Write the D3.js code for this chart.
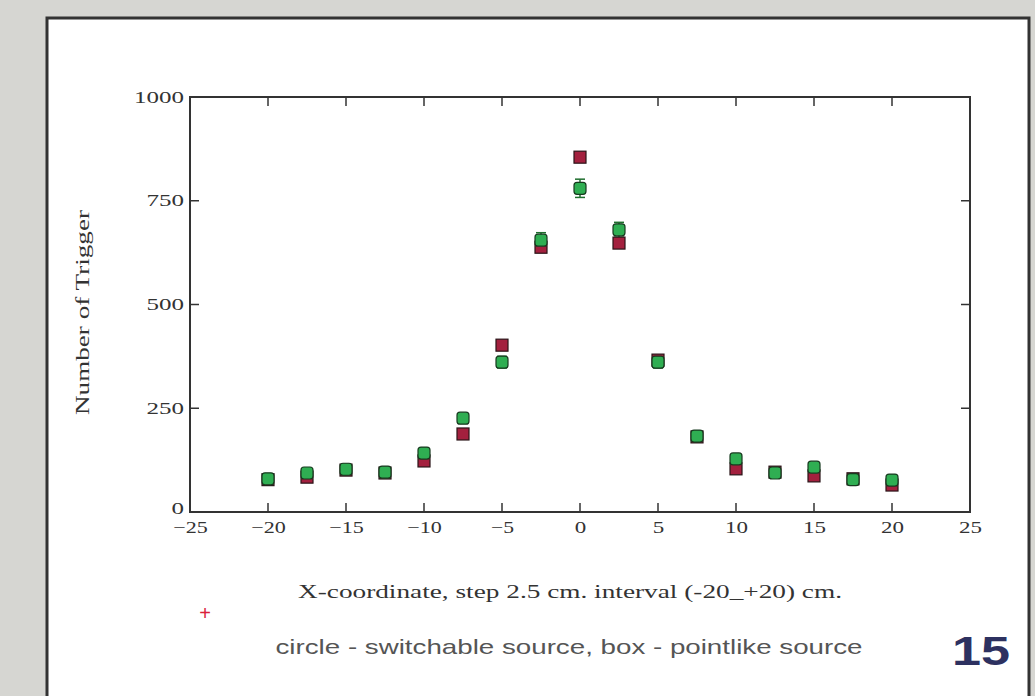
<!doctype html>
<html lang="en">

<head>
    <meta charset="UTF-8" />
    <script src="https://d3js.org/d3.v7.min.js"></script>
    <title>Number of Trigger</title>
    <style>
        body { margin: 0; background: #d6d6d2; }
    </style>
</head>

<body>
    <div id="chart"></div>
    <script>
        // Data
        const xPositions = [-20, -17.5, -15, -12.5, -10, -7.5, -5, -2.5, 0, 2.5, 5, 7.5, 10, 12.5, 15, 17.5, 20]
        const boxValues = [78, 84, 101, 94, 123, 188, 402, 638, 855, 648, 366, 181, 104, 96, 87, 80, 65]     // pointlike
        const circleValues = [80, 94, 103, 96, 142, 226, 361, 655, 780, 680, 361, 183, 128, 94, 108, 78, 77] // switchable
        const circleErrors = [6, 7, 7, 7, 8, 10, 14, 18, 22, 18, 14, 10, 8, 7, 8, 6, 6]
        const xTicks = [-25, -20, -15, -10, -5, 0, 5, 10, 15, 20, 25]
        const yTicks = [0, 250, 500, 750, 1000]

        const W = 1035, H = 696
        const plot = { left: 190, right: 970, top: 97, bottom: 512 }

        const svg = d3.select("#chart").append("svg")
            .attr("width", W).attr("height", H)

        // slide panel
        svg.append("rect")
            .attr("x", 47).attr("y", 18).attr("width", 982).attr("height", 700)
            .attr("fill", "white").attr("stroke", "#333").attr("stroke-width", 3)

        const x = d3.scaleLinear().domain([-25, 25]).range([plot.left, plot.right])
        const y = d3.scaleLinear().domain([0, 1000]).range([plot.bottom, plot.top])

        const serif = "'Liberation Serif', 'DejaVu Serif', serif"
        const sans = "'Liberation Sans', Arial, sans-serif"

        // frame
        svg.append("rect")
            .attr("x", plot.left).attr("y", plot.top)
            .attr("width", plot.right - plot.left).attr("height", plot.bottom - plot.top)
            .attr("fill", "none").attr("stroke", "#333").attr("stroke-width", 2)

        // tick labels (the original font is wide, so stretch the text a bit)
        svg.append("g")
            .attr("transform", `translate(0,${plot.bottom})`)
            .call(d3.axisBottom(x).tickValues(xTicks).tickSize(0).tickPadding(10)
                .tickFormat(d => d < 0 ? "\u2212" + (-d) : String(d)))
            .call(g => g.select(".domain").remove())
            .call(g => g.selectAll("text")
                .attr("font-family", serif).attr("font-size", 16).attr("fill", "#333")
                .attr("textLength", function () { return this.textContent.length * 11.5 })
                .attr("lengthAdjust", "spacingAndGlyphs"))

        svg.append("g")
            .attr("transform", `translate(${plot.left},0)`)
            .call(d3.axisLeft(y).tickValues(yTicks).tickSize(0).tickPadding(6).tickFormat(d3.format("d")))
            .call(g => g.select(".domain").remove())
            .call(g => g.selectAll("text")
                .attr("font-family", serif).attr("font-size", 16).attr("fill", "#333")
                .attr("textLength", function () { return this.textContent.length * 12.5 })
                .attr("lengthAdjust", "spacingAndGlyphs"))
            .call(g => g.selectAll(".tick").filter(d => d === 0).select("text").attr("dy", "0.1em"))

        // inward ticks on all four sides
        const inner = xTicks.filter(d => d !== -25 && d !== 25)
        const innerY = yTicks.filter(d => d !== 0 && d !== 1000)
        const tickG = svg.append("g").attr("stroke", "#333").attr("stroke-width", 1.5)
        inner.forEach(v => {
            tickG.append("line").attr("x1", x(v)).attr("x2", x(v)).attr("y1", plot.bottom).attr("y2", plot.bottom - 9)
            tickG.append("line").attr("x1", x(v)).attr("x2", x(v)).attr("y1", plot.top).attr("y2", plot.top + 9)
        })
        innerY.forEach(v => {
            tickG.append("line").attr("x1", plot.left).attr("x2", plot.left + 9).attr("y1", y(v)).attr("y2", y(v))
            tickG.append("line").attr("x1", plot.right).attr("x2", plot.right - 9).attr("y1", y(v)).attr("y2", y(v))
        })

        // error bars for circles
        const err = svg.append("g").attr("stroke", "#1f6e2e").attr("stroke-width", 1.5)
        xPositions.forEach((xv, i) => {
            const lo = y(circleValues[i] - circleErrors[i]), hi = y(circleValues[i] + circleErrors[i])
            err.append("line").attr("x1", x(xv)).attr("x2", x(xv)).attr("y1", lo).attr("y2", hi)
            err.append("line").attr("x1", x(xv) - 5).attr("x2", x(xv) + 5).attr("y1", lo).attr("y2", lo)
            err.append("line").attr("x1", x(xv) - 5).attr("x2", x(xv) + 5).attr("y1", hi).attr("y2", hi)
        })

        // boxes (pointlike)
        svg.append("g").selectAll("rect")
            .data(xPositions)
            .join("rect")
            .attr("x", d => x(d) - 6)
            .attr("y", (d, i) => y(boxValues[i]) - 6)
            .attr("width", 12).attr("height", 12)
            .attr("fill", "#a3203e").attr("stroke", "#2a1418").attr("stroke-width", 1.2)

        // circles (switchable)
        svg.append("g").selectAll("rect")
            .data(xPositions)
            .join("rect")
            .attr("x", d => x(d) - 6)
            .attr("y", (d, i) => y(circleValues[i]) - 6)
            .attr("width", 12).attr("height", 12).attr("rx", 3)
            .attr("fill", "#2fae52").attr("stroke", "#173a1f").attr("stroke-width", 1.2)

        // axis titles
        svg.append("text")
            .attr("transform", `translate(89,${(plot.top + plot.bottom) / 2 + 8}) rotate(-90)`)
            .attr("text-anchor", "middle")
            .attr("font-family", serif).attr("font-size", 19).attr("fill", "#333")
            .attr("textLength", 205).attr("lengthAdjust", "spacingAndGlyphs")
            .text("Number of Trigger")

        svg.append("text")
            .attr("x", 570).attr("y", 598)
            .attr("text-anchor", "middle")
            .attr("font-family", serif).attr("font-size", 18).attr("fill", "#333")
            .attr("textLength", 544).attr("lengthAdjust", "spacingAndGlyphs")
            .text("X-coordinate, step 2.5 cm. interval (-20_+20) cm.")

        svg.append("text")
            .attr("x", 205).attr("y", 620)
            .attr("text-anchor", "middle")
            .attr("font-family", sans).attr("font-size", 20).attr("fill", "#d9213a")
            .text("+")

        svg.append("text")
            .attr("x", 569).attr("y", 654)
            .attr("text-anchor", "middle")
            .attr("font-family", sans).attr("font-size", 21).attr("fill", "#555")
            .attr("textLength", 587).attr("lengthAdjust", "spacingAndGlyphs")
            .text("circle - switchable source, box - pointlike source")

        svg.append("text")
            .attr("x", 981).attr("y", 665)
            .attr("text-anchor", "middle")
            .attr("font-family", sans).attr("font-size", 40)
            .attr("font-weight", "bold").attr("fill", "#2d3160")
            .attr("textLength", 58).attr("lengthAdjust", "spacingAndGlyphs")
            .text("15")
    </script>
</body>

</html>
